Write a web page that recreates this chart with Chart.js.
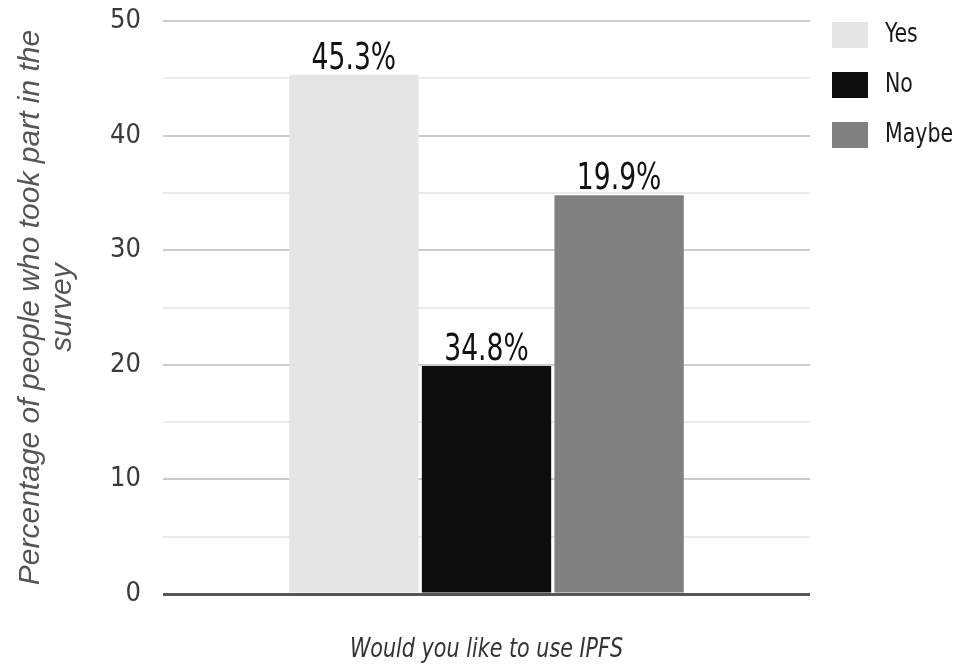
<!DOCTYPE html>
<html>
<head>
<meta charset="utf-8">
<script src="https://cdn.jsdelivr.net/npm/chart.js@4.4.1/dist/chart.umd.min.js"></script>
<style>
  html, body { margin: 0; padding: 0; background: #ffffff; }
  #wrap { width: 957px; height: 668px; }
</style>
</head>
<body>
<div id="wrap"><canvas id="c" width="957" height="668"></canvas></div>
<script>
// Survey answers to "Would you like to use IPFS"
const categories = ['Would you like to use IPFS'];
const seriesNames = ['Yes', 'No', 'Maybe'];
const seriesValues = [45.3, 19.9, 34.8];
const valueLabels = ['45.3%', '34.8%', '19.9%'];
const seriesColors = ['#e5e5e5', '#0d0d0d', '#808080'];
const yTicks = [0, 10, 20, 30, 40, 50];

const narrow = "'Liberation Sans Narrow', 'DejaVu Sans Condensed', 'Liberation Sans', sans-serif";

const datasets = seriesNames.map((name, i) => ({
  label: name,
  data: [seriesValues[i]],
  backgroundColor: seriesColors[i],
  borderWidth: 0,
  categoryPercentage: 0.615,
  barPercentage: 0.975
}));

// Text printed above each bar
const barLabels = {
  id: 'barLabels',
  afterDatasetsDraw(chart) {
    const ctx = chart.ctx;
    ctx.save();
    ctx.fillStyle = '#111111';
    ctx.font = '34px ' + narrow;
    ctx.textAlign = 'center';
    ctx.textBaseline = 'alphabetic';
    chart.data.datasets.forEach((ds, i) => {
      const el = chart.getDatasetMeta(i).data[0];
      ctx.save();
      ctx.translate(el.x, el.y - 6);
      ctx.scale(0.87, 1.1);
      ctx.fillText(valueLabels[i], 0, 0);
      ctx.restore();
    });
    ctx.restore();
  }
};

// Legend column to the right of the plot
const sideLegend = {
  id: 'sideLegend',
  afterDraw(chart) {
    const ctx = chart.ctx;
    const area = chart.chartArea;
    ctx.save();
    ctx.font = '24px ' + narrow;
    ctx.textBaseline = 'middle';
    ctx.textAlign = 'left';
    seriesNames.forEach((name, i) => {
      const top = area.top + 1 + i * 50;
      ctx.fillStyle = seriesColors[i];
      ctx.fillRect(area.right + 22, top, 36, 26);
      ctx.fillStyle = '#1a1a1a';
      ctx.save();
      ctx.translate(area.right + 75, top + 13);
      ctx.scale(0.95, 1.1);
      ctx.fillText(name, 0, 0);
      ctx.restore();
    });
    ctx.restore();
  }
};

// Axis caption under the plot, slightly condensed
const xCaption = {
  id: 'xCaption',
  afterDraw(chart) {
    const ctx = chart.ctx;
    const area = chart.chartArea;
    ctx.save();
    ctx.font = 'italic 25px ' + narrow;
    ctx.fillStyle = '#333333';
    ctx.textAlign = 'center';
    ctx.textBaseline = 'middle';
    ctx.translate((area.left + area.right) / 2, chart.height - 18);
    ctx.scale(0.92, 1.08);
    ctx.fillText(categories[0], 0, 0);
    ctx.restore();
  }
};

new Chart(document.getElementById('c'), {
  type: 'bar',
  data: { labels: categories, datasets },
  plugins: [barLabels, sideLegend, xCaption],
  options: {
    responsive: false,
    animation: false,
    devicePixelRatio: 1,
    layout: { padding: { top: 21, right: 147, left: 0, bottom: 0 } },
    plugins: {
      legend: { display: false },
      tooltip: { enabled: false }
    },
    scales: {
      x: {
        ticks: { display: false },
        grid: { display: false, drawTicks: false },
        border: { display: false },
        title: { display: false },
        afterFit(scale) { scale.height = 74; scale.paddingLeft = 0; scale.paddingRight = 0; }
      },
      y: {
        min: 0,
        max: 50,
        afterBuildTicks(scale) {
          const t = [];
          for (let v = 0; v <= 50; v += 5) t.push({ value: v });
          scale.ticks = t;
        },
        ticks: {
          color: '#3a3a3a',
          padding: 22,
          font: { family: narrow, size: 27 },
          callback: (v) => (yTicks.includes(v) ? String(v) : '')
        },
        grid: {
          drawTicks: false,
          color: (c) => (c.tick && c.tick.value === 0 ? '#555555' : (c.tick && c.tick.value % 10 === 0 ? '#cccccc' : '#ebebeb')),
          lineWidth: (c) => (c.tick && c.tick.value === 0 ? 3 : 2)
        },
        border: { display: false },
        title: {
          display: true,
          text: ['Percentage of people who took part in the', 'survey'],
          color: '#555555',
          font: { family: "'Liberation Sans', sans-serif", size: 30, style: 'italic', lineHeight: 1.05 },
          padding: { top: 15, bottom: 0 }
        },
        afterFit(scale) { scale.width = 163; scale.paddingTop = 0; scale.paddingBottom = 0; }
      }
    }
  }
});
</script>
</body>
</html>
